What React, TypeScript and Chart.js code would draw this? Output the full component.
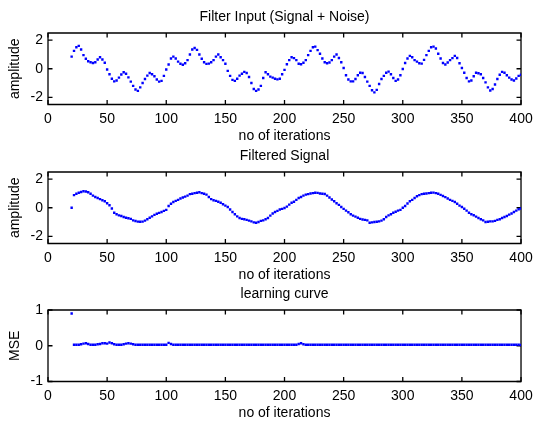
import React, { useEffect, useRef } from 'react';
import { Chart, registerables } from 'chart.js';

Chart.register(...registerables);

// ---------- data ----------
const iterations = [
  20, 22, 24, 26, 28, 30, 32, 34, 36, 38,
  40, 42, 44, 46, 48, 50, 52, 54, 56, 58,
  60, 62, 64, 66, 68, 70, 72, 74, 76, 78,
  80, 82, 84, 86, 88, 90, 92, 94, 96, 98,
  100, 102, 104, 106, 108, 110, 112, 114, 116, 118,
  120, 122, 124, 126, 128, 130, 132, 134, 136, 138,
  140, 142, 144, 146, 148, 150, 152, 154, 156, 158,
  160, 162, 164, 166, 168, 170, 172, 174, 176, 178,
  180, 182, 184, 186, 188, 190, 192, 194, 196, 198,
  200, 202, 204, 206, 208, 210, 212, 214, 216, 218,
  220, 222, 224, 226, 228, 230, 232, 234, 236, 238,
  240, 242, 244, 246, 248, 250, 252, 254, 256, 258,
  260, 262, 264, 266, 268, 270, 272, 274, 276, 278,
  280, 282, 284, 286, 288, 290, 292, 294, 296, 298,
  300, 302, 304, 306, 308, 310, 312, 314, 316, 318,
  320, 322, 324, 326, 328, 330, 332, 334, 336, 338,
  340, 342, 344, 346, 348, 350, 352, 354, 356, 358,
  360, 362, 364, 366, 368, 370, 372, 374, 376, 378,
  380, 382, 384, 386, 388, 390, 392, 394, 396, 398,
  400,
];

const filterInput = [
  0.85, 1.25, 1.5, 1.6, 1.35, 0.95, 0.7, 0.52, 0.45, 0.4,
  0.45, 0.65, 0.8, 0.65, 0.42, -0.05, -0.38, -0.7, -0.88, -0.82,
  -0.62, -0.4, -0.25, -0.35, -0.6, -0.9, -1.2, -1.45, -1.55, -1.3,
  -1.0, -0.72, -0.48, -0.3, -0.38, -0.52, -0.75, -0.9, -0.85, -0.5,
  -0.05, 0.3, 0.72, 0.85, 0.72, 0.5, 0.35, 0.28, 0.38, 0.6,
  1.0, 1.35, 1.45, 1.32, 1.0, 0.7, 0.45, 0.34, 0.36, 0.45,
  0.6, 0.85, 1.0, 0.8, 0.6, 0.35, -0.15, -0.5, -0.78, -0.85,
  -0.7, -0.48, -0.35, -0.22, -0.3, -0.58, -1.0, -1.42, -1.55, -1.45,
  -1.2, -0.65, -0.25, -0.38, -0.55, -0.62, -0.7, -0.74, -0.7, -0.38,
  -0.08, 0.32, 0.6, 0.8, 0.74, 0.6, 0.35, 0.32, 0.42, 0.6,
  0.95, 1.25, 1.5, 1.55, 1.3, 1.05, 0.72, 0.45, 0.38, 0.44,
  0.6, 0.85, 1.0, 0.75, 0.45, 0.05, -0.45, -0.75, -0.88, -0.88,
  -0.72, -0.45, -0.28, -0.3, -0.58, -0.9, -1.2, -1.5, -1.65, -1.48,
  -1.07, -0.72, -0.5, -0.28, -0.2, -0.38, -0.65, -0.85, -0.75, -0.45,
  -0.02, 0.4, 0.72, 0.9, 0.8, 0.6, 0.5, 0.38, 0.36, 0.62,
  0.95, 1.25, 1.5, 1.55, 1.42, 1.05, 0.72, 0.4, 0.3, 0.44,
  0.6, 0.74, 0.9, 0.75, 0.38, 0.05, -0.28, -0.65, -0.88, -0.82,
  -0.52, -0.28, -0.32, -0.38, -0.65, -0.95, -1.3, -1.52, -1.42, -1.1,
  -0.72, -0.42, -0.22, -0.28, -0.45, -0.62, -0.75, -0.82, -0.68, -0.5,
  -0.42,
];

const filteredSignal = [
  0.0, 0.88, 0.98, 1.05, 1.1, 1.15, 1.14, 1.08, 0.98, 0.85,
  0.75, 0.68, 0.6, 0.52, 0.45, 0.32, 0.18, -0.05, -0.35, -0.45,
  -0.53, -0.58, -0.65, -0.7, -0.73, -0.78, -0.88, -0.93, -0.97, -0.98,
  -0.97, -0.9, -0.8, -0.7, -0.6, -0.5, -0.42, -0.36, -0.3, -0.22,
  -0.15, 0.12, 0.28, 0.4, 0.48, 0.55, 0.65, 0.72, 0.78, 0.85,
  0.95, 0.98, 1.02, 1.05, 1.08, 1.02, 0.98, 0.92, 0.75, 0.6,
  0.52, 0.48, 0.42, 0.35, 0.25, 0.15, 0.05, -0.12, -0.3, -0.45,
  -0.6, -0.72, -0.78, -0.8, -0.85, -0.9, -0.95, -1.02, -1.05, -1.0,
  -0.92, -0.88, -0.8, -0.72, -0.55, -0.4, -0.3, -0.22, -0.12, -0.08,
  -0.02, 0.08, 0.22, 0.35, 0.42, 0.55, 0.68, 0.75, 0.85, 0.92,
  0.95, 1.0, 1.02, 1.05, 1.04, 1.0, 0.98, 0.96, 0.85, 0.72,
  0.58, 0.45, 0.32, 0.2, 0.05, -0.08, -0.2, -0.32, -0.45, -0.55,
  -0.62, -0.7, -0.78, -0.82, -0.85, -0.88, -1.05, -1.02, -1.0, -0.98,
  -0.95, -0.9, -0.8, -0.65, -0.53, -0.45, -0.35, -0.28, -0.2, -0.15,
  0.0, 0.12, 0.3, 0.45, 0.55, 0.68, 0.8, 0.88, 0.95, 0.98,
  1.0, 1.02, 1.05, 1.06, 1.02, 0.98, 0.9, 0.82, 0.74, 0.65,
  0.55, 0.48, 0.4, 0.28, 0.15, 0.05, -0.07, -0.2, -0.35, -0.45,
  -0.52, -0.62, -0.72, -0.8, -0.88, -1.0, -0.98, -0.95, -0.95, -0.92,
  -0.85, -0.8, -0.72, -0.65, -0.58, -0.48, -0.4, -0.3, -0.2, -0.1,
  -0.05,
];

const mseValues = [
  0.9, 0.03, 0.03, 0.03, 0.04, 0.06, 0.07, 0.05, 0.03, 0.03,
  0.03, 0.04, 0.05, 0.07, 0.07, 0.06, 0.09, 0.07, 0.04, 0.03,
  0.03, 0.03, 0.04, 0.06, 0.07, 0.06, 0.04, 0.03, 0.03, 0.03,
  0.03, 0.03, 0.03, 0.03, 0.03, 0.03, 0.03, 0.03, 0.03, 0.03,
  0.03, 0.08, 0.05, 0.03, 0.03, 0.03, 0.03, 0.03, 0.03, 0.03,
  0.03, 0.03, 0.03, 0.03, 0.03, 0.03, 0.03, 0.03, 0.03, 0.03,
  0.03, 0.03, 0.03, 0.03, 0.03, 0.03, 0.03, 0.03, 0.03, 0.03,
  0.03, 0.03, 0.03, 0.03, 0.03, 0.03, 0.03, 0.03, 0.03, 0.03,
  0.03, 0.03, 0.03, 0.03, 0.03, 0.03, 0.03, 0.03, 0.03, 0.03,
  0.03, 0.03, 0.03, 0.03, 0.03, 0.03, 0.05, 0.07, 0.04, 0.03,
  0.03, 0.03, 0.03, 0.03, 0.03, 0.03, 0.03, 0.03, 0.03, 0.03,
  0.03, 0.03, 0.03, 0.03, 0.03, 0.03, 0.03, 0.03, 0.03, 0.03,
  0.03, 0.03, 0.03, 0.03, 0.03, 0.03, 0.03, 0.03, 0.03, 0.03,
  0.03, 0.03, 0.03, 0.03, 0.03, 0.03, 0.03, 0.03, 0.03, 0.03,
  0.03, 0.03, 0.03, 0.03, 0.03, 0.03, 0.03, 0.03, 0.03, 0.03,
  0.03, 0.03, 0.03, 0.03, 0.03, 0.03, 0.03, 0.03, 0.03, 0.03,
  0.03, 0.03, 0.03, 0.03, 0.03, 0.03, 0.03, 0.03, 0.03, 0.03,
  0.03, 0.03, 0.03, 0.03, 0.03, 0.03, 0.03, 0.03, 0.03, 0.03,
  0.03, 0.03, 0.03, 0.03, 0.03, 0.03, 0.03, 0.03, 0.03, 0.03,
  0.02,
];

const xTicks = [0, 50, 100, 150, 200, 250, 300, 350, 400];
const ampTicks = [-2, 0, 2];
const mseTicks = [-1, 0, 1];

const titles = ['Filter Input (Signal + Noise)', 'Filtered Signal', 'learning curve'];
const xLabel = 'no of iterations';
const yLabels = ['amplitude', 'amplitude', 'MSE'];

// ---------- styling ----------
const FONT_FAMILY = "'Liberation Sans', Arial, Helvetica, sans-serif";
const FONT = { family: FONT_FAMILY, size: 14, lineHeight: 1 };
const CANVAS_W = 540;
const CANVAS_H = 144;
const CANVAS_TOPS = [0, 139, 277];
const TICK_LEN = 4.5;

const boxPlugin = {
  id: 'matlabBox',
  beforeDatasetsDraw(chart: any) {
    const { ctx, chartArea } = chart;
    const { left, right, top, bottom } = chartArea;
    const xs = chart.scales.x;
    const ys = chart.scales.y;
    ctx.save();
    ctx.strokeStyle = '#000';
    ctx.lineWidth = 1.3;
    ctx.beginPath();
    ctx.rect(left, top, right - left, bottom - top);
    ctx.stroke();
    ctx.beginPath();
    for (const t of xs.ticks) {
      const px = xs.getPixelForValue(t.value);
      ctx.moveTo(px, bottom);
      ctx.lineTo(px, bottom - TICK_LEN);
      ctx.moveTo(px, top);
      ctx.lineTo(px, top + TICK_LEN);
    }
    for (const t of ys.ticks) {
      const py = ys.getPixelForValue(t.value);
      ctx.moveTo(left, py);
      ctx.lineTo(left + TICK_LEN, py);
      ctx.moveTo(right, py);
      ctx.lineTo(right - TICK_LEN, py);
    }
    ctx.stroke();
    ctx.restore();
  },
};

function buildConfig(idx: number): any {
  const values = [filterInput, filteredSignal, mseValues][idx];
  const yTicks = idx === 2 ? mseTicks : ampTicks;
  const yMin = idx === 2 ? -1 : -2.5;
  const yMax = idx === 2 ? 1 : 2.5;
  return {
    type: 'scatter',
    data: {
      datasets: [
        {
          data: iterations.map((x, k) => ({ x, y: values[k] })),
          pointStyle: 'rect',
          pointRadius: 1.7,
          pointHoverRadius: 1.7,
          pointBorderWidth: 0,
          pointBackgroundColor: '#0000ff',
          backgroundColor: '#0000ff',
          borderColor: '#0000ff',
        },
      ],
    },
    options: {
      responsive: false,
      animation: false,
      devicePixelRatio: 1,
      events: [],
      layout: { padding: { left: 0, right: 13, top: 0, bottom: 0 } },
      plugins: {
        legend: { display: false },
        tooltip: { enabled: false },
        title: {
          display: true,
          text: titles[idx],
          color: '#000',
          font: { ...FONT, weight: 'normal' },
          padding: { top: 10.3, bottom: 8.7 },
          fullSize: false,
        },
      },
      scales: {
        x: {
          type: 'linear',
          min: 0,
          max: 400,
          grid: { display: false, drawTicks: false },
          border: { display: false },
          afterBuildTicks: (axis: any) => {
            axis.ticks = xTicks.map((v) => ({ value: v }));
          },
          afterFit: (axis: any) => {
            axis.height = 39.5;
          },
          ticks: {
            color: '#000',
            font: FONT,
            padding: 7.3,
            maxRotation: 0,
            autoSkip: false,
            callback: (v: any) => String(v),
          },
          title: {
            display: true,
            text: xLabel,
            color: '#000',
            font: FONT,
            padding: { top: 0, bottom: 0.9 },
          },
        },
        y: {
          type: 'linear',
          min: yMin,
          max: yMax,
          grid: { display: false, drawTicks: false },
          border: { display: false },
          afterBuildTicks: (axis: any) => {
            axis.ticks = yTicks.map((v) => ({ value: v }));
          },
          afterFit: (axis: any) => {
            axis.width = 48;
          },
          ticks: {
            color: '#000',
            font: FONT,
            padding: 5,
            autoSkip: false,
            callback: (v: any) => String(v),
          },
          title: {
            display: true,
            text: yLabels[idx],
            color: '#000',
            font: FONT,
            padding: { top: 8.5, bottom: 0 },
          },
        },
      },
    },
    plugins: [boxPlugin],
  };
}

export default function App() {
  const ref0 = useRef<HTMLCanvasElement | null>(null);
  const ref1 = useRef<HTMLCanvasElement | null>(null);
  const ref2 = useRef<HTMLCanvasElement | null>(null);

  useEffect(() => {
    const canvases = [ref0.current, ref1.current, ref2.current];
    const charts: Chart[] = [];
    canvases.forEach((c, i) => {
      if (c) charts.push(new Chart(c, buildConfig(i)));
    });
    return () => {
      charts.forEach((ch) => ch.destroy());
    };
  }, []);

  const refs = [ref0, ref1, ref2];
  return (
    <div
      style={{
        position: 'absolute',
        left: 0,
        top: 0,
        width: CANVAS_W,
        height: 423,
        background: '#fff',
        overflow: 'hidden',
      }}
    >
      {refs.map((r, i) => (
        <canvas
          key={i}
          ref={r}
          width={CANVAS_W}
          height={CANVAS_H}
          style={{ position: 'absolute', left: 0, top: CANVAS_TOPS[i], display: 'block' }}
        />
      ))}
    </div>
  );
}
